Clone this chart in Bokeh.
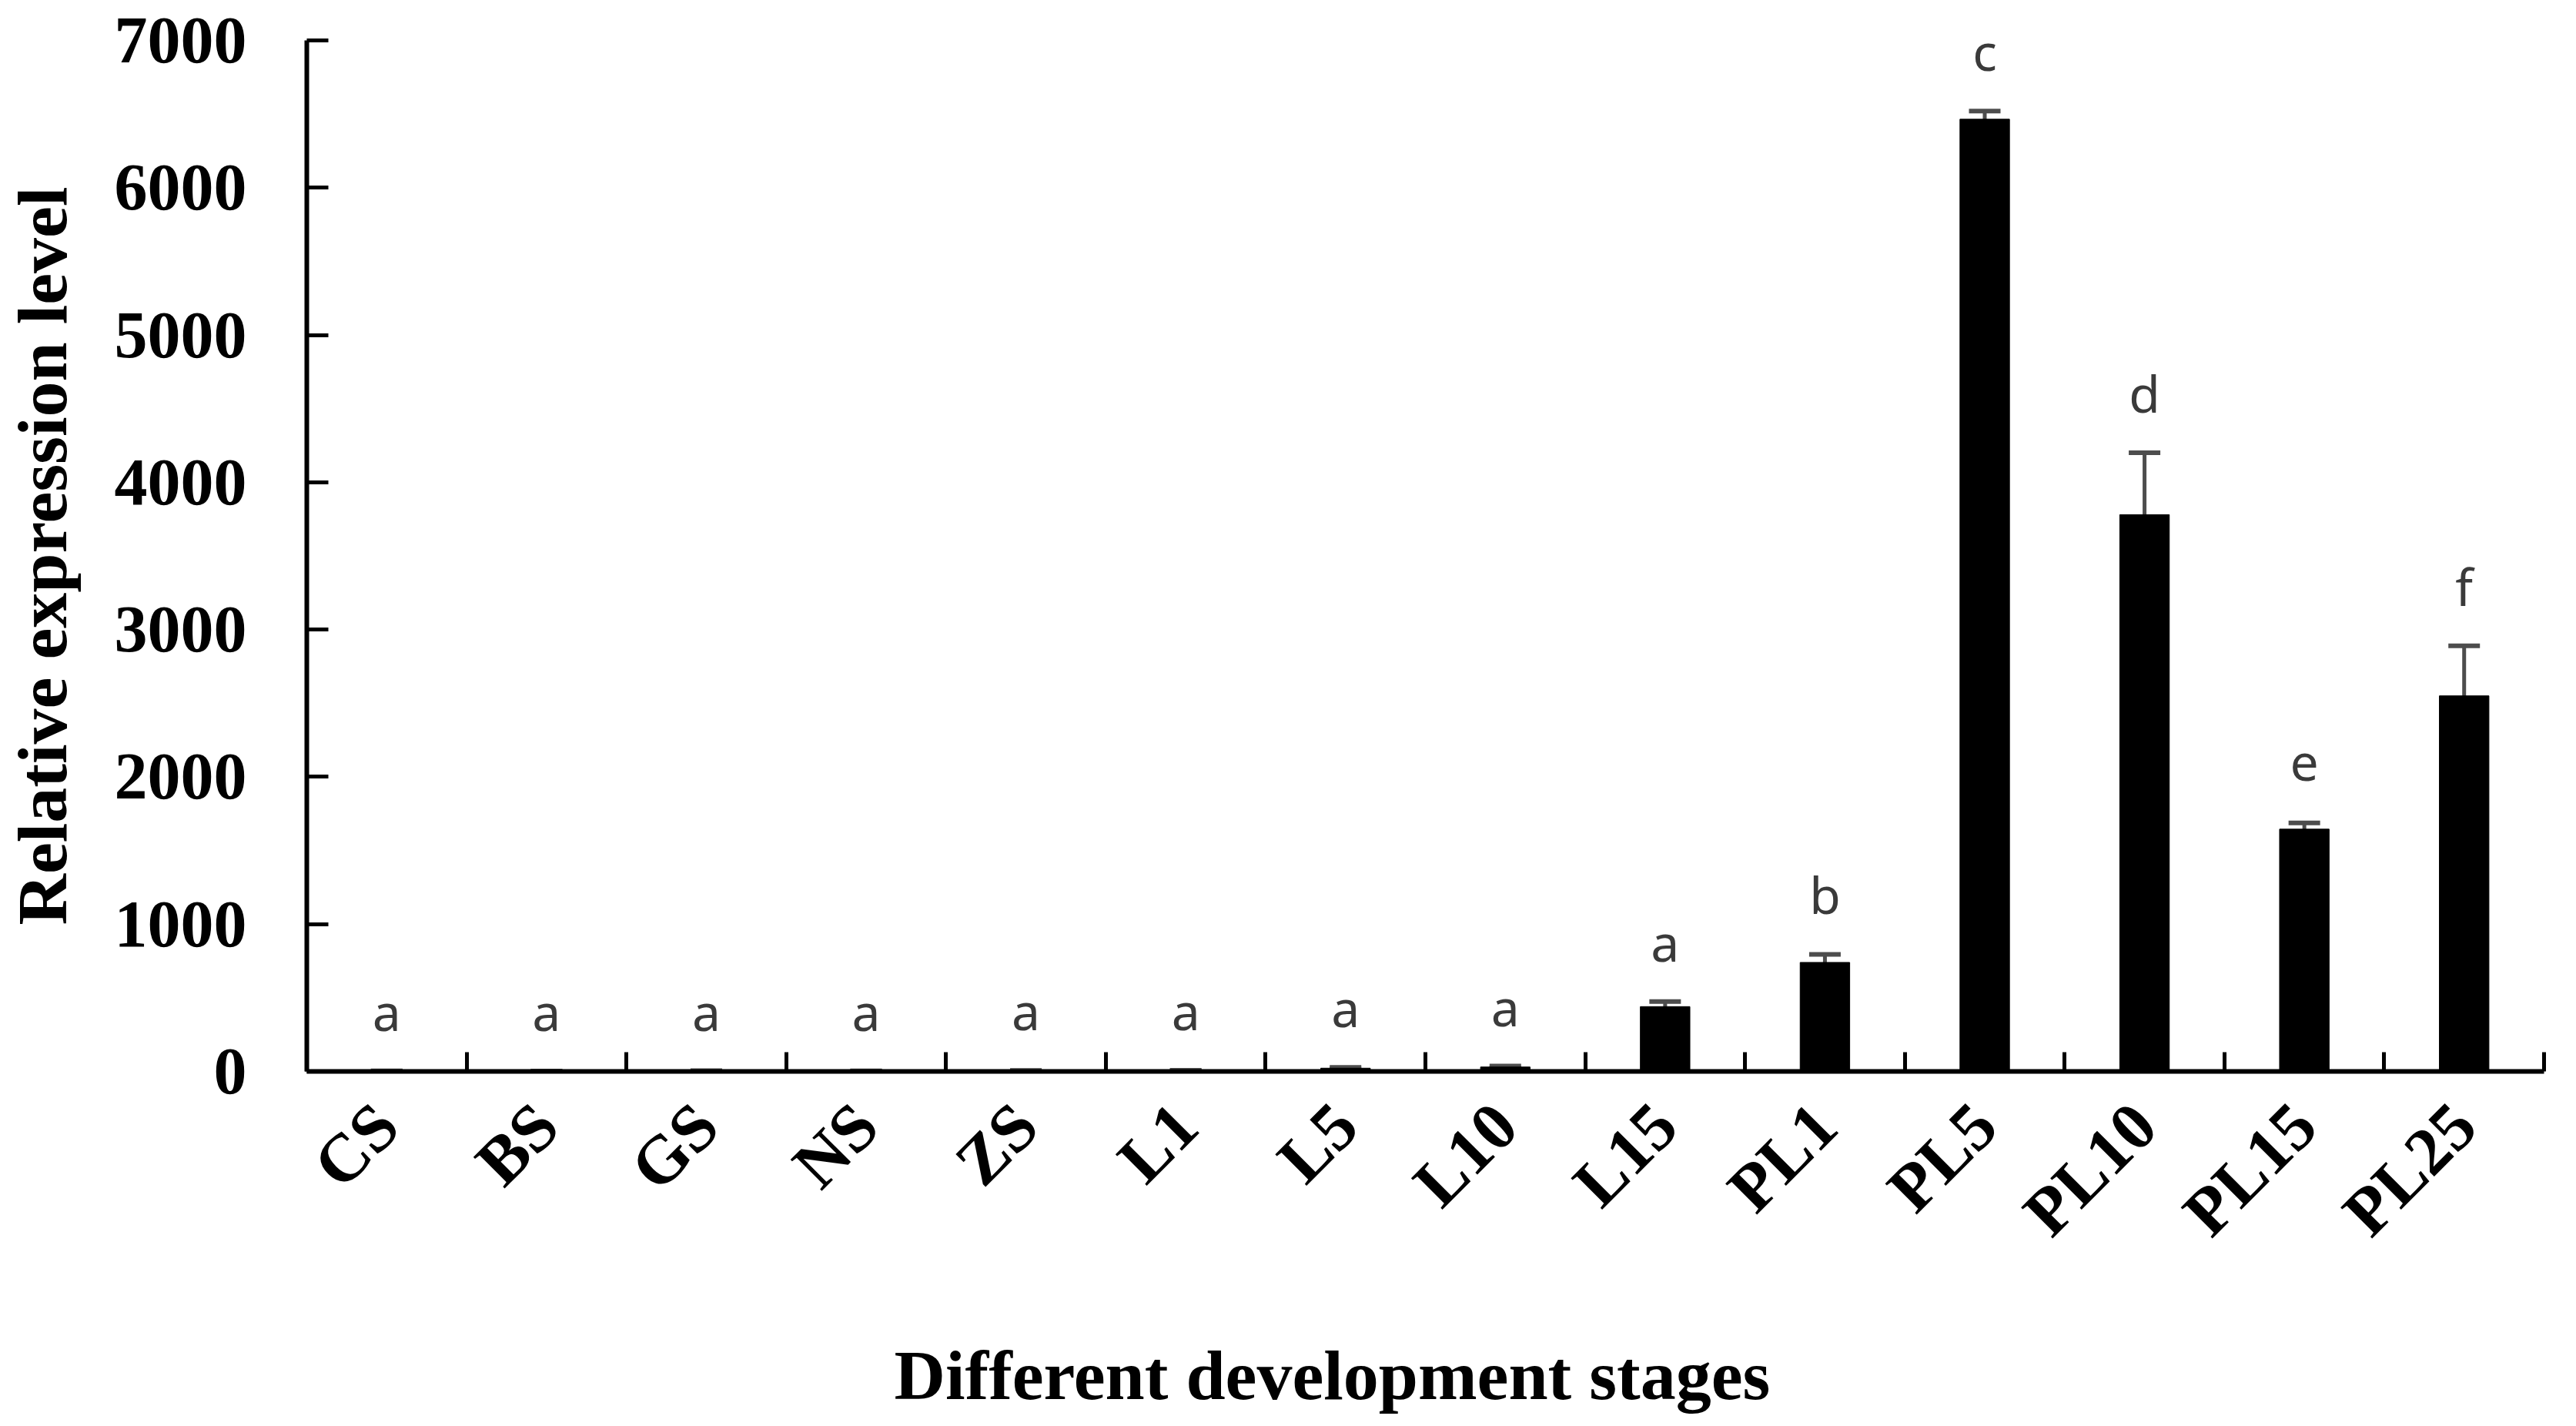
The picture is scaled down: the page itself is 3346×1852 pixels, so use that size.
import math
from bokeh.plotting import figure
from bokeh.models import ColumnDataSource, Whisker, FixedTicker, Title, Range1d, TeeHead
from bokeh.core.properties import value
from bokeh.embed import file_html
from bokeh.resources import INLINE

stages = ["CS", "BS", "GS", "NS", "ZS", "L1", "L5", "L10", "L15",
          "PL1", "PL5", "PL10", "PL15", "PL25"]
means = [3, 2, 4, 3, 5, 6, 22, 30, 440, 740, 6465, 3780, 1645, 2550]
errors = [1, 1, 1, 1, 1, 2, 5, 6, 35, 55, 55, 420, 42, 340]
letters = ["a", "a", "a", "a", "a", "a", "a", "a", "a", "b", "c", "d", "e", "f"]
y_ticks = [0, 1000, 2000, 3000, 4000, 5000, 6000, 7000]

xpos = list(range(len(stages)))
upper = [m + e for m, e in zip(means, errors)]
lower = [m - e for m, e in zip(means, errors)]
separators = [i - 0.5 for i in range(len(stages) + 1)]

SERIF = "Liberation Serif"

p = figure(width=3330, height=1836, output_backend="svg", toolbar_location=None,
           x_range=Range1d(-0.5, len(stages) - 0.5), y_range=Range1d(0, 7000),
           min_border_left=397, min_border_right=26, min_border_top=52,
           min_border_bottom=442)
p.outline_line_color = None
p.grid.visible = False
p.background_fill_color = "white"
p.border_fill_color = "white"

src = ColumnDataSource(dict(x=xpos, mean=means, upper=upper, lower=lower,
                            letter=letters))
p.vbar(x="x", top="mean", bottom=0, width=0.31, fill_color="black",
       line_color="black", source=src)

ecol = "#4d4d4d"
w = Whisker(base="x", upper="upper", lower="lower", source=src,
            line_color=ecol, line_width=5,
            upper_head=TeeHead(size=41, line_color=ecol, line_width=6),
            lower_head=TeeHead(size=41, line_color=ecol, line_width=6))
p.add_layout(w)

p.text(x="x", y="upper", text="letter", source=src, text_align="center",
       text_baseline="middle", y_offset=-78, text_font=value("Noto Sans"),
       text_font_size="66px", text_color="#3a3a3a")

# x axis
xa = p.xaxis[0]
xa.ticker = FixedTicker(ticks=xpos, minor_ticks=separators)
xa.major_label_overrides = {i: s for i, s in zip(xpos, stages)}
xa.major_label_orientation = math.pi / 4
xa.major_tick_line_color = None
xa.minor_tick_in = 25
xa.minor_tick_out = 0
xa.minor_tick_line_width = 5
xa.minor_tick_line_color = "black"
xa.axis_line_width = 6
xa.axis_line_color = "black"
xa.major_label_text_font = SERIF
xa.major_label_text_font_style = "bold"
xa.major_label_text_font_size = "88px"
xa.major_label_text_color = "black"
xa.major_label_standoff = 50

# y axis
ya = p.yaxis[0]
ya.ticker = FixedTicker(ticks=y_ticks, minor_ticks=[])
ya.major_tick_in = 28
ya.major_tick_out = 0
ya.major_tick_line_width = 5
ya.axis_line_width = 6
ya.axis_line_color = "black"
ya.major_label_text_font = SERIF
ya.major_label_text_font_style = "bold"
ya.major_label_text_font_size = "86px"
ya.major_label_text_color = "black"
ya.major_label_standoff = 78
ya.axis_label = "Relative expression level"
ya.axis_label_text_font = SERIF
ya.axis_label_text_font_style = "bold"
ya.axis_label_text_font_size = "92px"
ya.axis_label_text_color = "black"
ya.axis_label_standoff = 40

# spacer between the tick labels and the x title
spacer = Title(text=" ", text_font_size="2px", standoff=68)
p.add_layout(spacer, "below")

xtitle = Title(text="Different development stages", align="left", offset=763,
               vertical_align="bottom",
               text_font=SERIF, text_font_style="bold", text_font_size="92px",
               text_color="black", standoff=0)
p.add_layout(xtitle, "below")

open("out.html", "w").write(file_html(p, INLINE))
